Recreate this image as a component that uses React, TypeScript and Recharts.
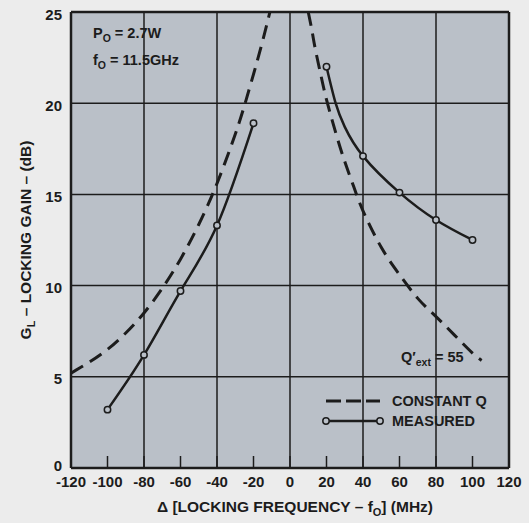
import React from 'react';
import {
  LineChart,
  Line,
  XAxis,
  YAxis,
  CartesianGrid,
  ReferenceLine,
  Customized,
} from 'recharts';

// Axis ticks and grid positions
const xTicks = [-120, -100, -80, -60, -40, -20, 0, 20, 40, 60, 80, 100, 120];
const yTicks = [0, 5, 10, 15, 20, 25];
const gridDelta = [-80, -40, 0, 40, 80];
const gridGain = [5, 10, 15, 20];

// Constant-Q locking gain curve (dB) vs. detuning (MHz)
const constQLeftDelta = [-120, -110, -100, -90, -80, -70, -60, -50, -40, -30, -24, -18, -14, -11];
const constQLeftGain = [5.2, 5.8, 6.5, 7.4, 8.5, 9.85, 11.45, 13.35, 15.6, 18.3, 20.2, 22.3, 23.8, 25.0];
const constQRightDelta = [10, 12, 14, 17, 20, 25, 30, 35, 40, 50, 60, 70, 80, 90, 100, 105];
const constQRightGain = [25.0, 24.0, 22.9, 21.5, 20.2, 18.4, 16.8, 15.4, 14.1, 12.1, 10.6, 9.3, 8.3, 7.3, 6.3, 5.9];

// Measured locking gain (dB) at the sampled detunings
const measLeftDelta = [-100, -80, -60, -40, -20];
const measLeftGain = [3.2, 6.2, 9.7, 13.3, 18.9];
const measRightDelta = [20, 40, 60, 80, 100];
const measRightGain = [22.0, 17.1, 15.1, 13.6, 12.5];

// Faired curve through the right-hand measurements
const measRightTraceDelta = [20, 25, 30, 40, 60, 80, 100];
const measRightTraceGain = [22.0, 20.0, 18.7, 17.1, 15.1, 13.6, 12.5];

const toPoints = (delta: number[], gain: number[]) =>
  delta.map((d, i) => ({ delta: d, gain: gain[i] }));

const INK = '#1c1c1c';
const PLOT_BG = '#bac0c8';
const PAGE_BG = '#ececec';
const FONT = '"Liberation Sans", Arial, Helvetica, sans-serif';

const W = 529;
const H = 523;

const textStyle = {
  fontFamily: FONT,
  fontWeight: 700,
  fill: INK,
} as const;

const openDot = { r: 3.2, fill: PLOT_BG, stroke: INK, strokeWidth: 1.5 };

// Gain tick labels: the zero label sits just above the corner
const GainTick = (props: any) => {
  const { x, y, payload } = props;
  const dy = payload.value === 0 ? -3 : 2;
  return (
    <text x={x} y={y + dy} textAnchor="end" dominantBaseline="central" fontSize={15} {...textStyle}>
      {payload.value}
    </text>
  );
};

// Annotations, legend and axis titles drawn into the chart svg
const Annotations = () => (
  <g>
    {/* operating point */}
    <text x={93} y={38} fontSize={14.5} {...textStyle}>
      P<tspan dy={4} fontSize={10.5}>O</tspan>
      <tspan dy={-4}> = 2.7W</tspan>
    </text>
    <text x={93} y={65} fontSize={14.5} {...textStyle}>
      f<tspan dy={4} fontSize={10.5}>O</tspan>
      <tspan dy={-4}> = 11.5GHz</tspan>
    </text>

    {/* external Q label */}
    <rect x={398} y={344} width={70} height={24} fill={PLOT_BG} />
    <text x={401} y={362} fontSize={14.5} {...textStyle}>
      Q′<tspan dy={4} fontSize={10.5}>ext</tspan>
      <tspan dy={-4}> = 55</tspan>
    </text>

    {/* legend */}
    <rect x={318} y={384} width={188} height={48} fill={PLOT_BG} />
    <line x1={326} x2={380} y1={401} y2={401} stroke={INK} strokeWidth={3} strokeDasharray="15 5" />
    <text x={392} y={406} fontSize={14.5} {...textStyle}>CONSTANT Q</text>
    <line x1={326} x2={380} y1={421} y2={421} stroke={INK} strokeWidth={2.5} />
    <circle cx={326} cy={421} {...openDot} />
    <circle cx={380} cy={421} {...openDot} />
    <text x={392} y={426} fontSize={14.5} {...textStyle}>MEASURED</text>

    {/* axis titles */}
    <text
      x={0}
      y={0}
      transform="translate(31 240) rotate(-90)"
      textAnchor="middle"
      fontSize={15.5}
      {...textStyle}
    >
      G<tspan dy={4} fontSize={11}>L</tspan>
      <tspan dy={-4}> – LOCKING GAIN – (dB)</tspan>
    </text>
    <text x={295} y={512} textAnchor="middle" fontSize={15.5} {...textStyle}>
      Δ [LOCKING FREQUENCY – f<tspan dy={4} fontSize={11}>O</tspan>
      <tspan dy={-4}>] (MHz)</tspan>
    </text>
  </g>
);

export default function App() {
  return (
    <div
      style={{
        position: 'absolute',
        left: 0,
        top: 0,
        width: W,
        height: H,
        background: PAGE_BG,
      }}
    >
      <LineChart width={W} height={H} margin={{ top: 12, right: 20, left: 31, bottom: 25 }}>
        <CartesianGrid horizontal={false} vertical={false} fill={PLOT_BG} />
        <XAxis
          dataKey="delta"
          type="number"
          domain={[-120, 120]}
          ticks={xTicks}
          interval={0}
          height={30}
          axisLine={false}
          tickSize={-12}
          tickMargin={20}
          tickLine={{ stroke: INK, strokeWidth: 1.5 }}
          tick={{ fill: INK, fontSize: 15, fontWeight: 700, fontFamily: FONT }}
          allowDataOverflow
        />
        <YAxis
          dataKey="gain"
          type="number"
          domain={[0, 25]}
          ticks={yTicks}
          interval={0}
          width={40}
          axisLine={false}
          tickLine={false}
          tickSize={0}
          tickMargin={9}
          tick={<GainTick />}
          allowDataOverflow
        />
        {gridDelta.map((d) => (
          <ReferenceLine key={`gx${d}`} x={d} stroke={INK} strokeWidth={1.5} />
        ))}
        {gridGain.map((g) => (
          <ReferenceLine key={`gy${g}`} y={g} stroke={INK} strokeWidth={1.5} />
        ))}
        <ReferenceLine x={-120} stroke={INK} strokeWidth={2.5} />
        <ReferenceLine x={120} stroke={INK} strokeWidth={2.5} />
        <ReferenceLine y={0} stroke={INK} strokeWidth={2.5} />
        <ReferenceLine y={25} stroke={INK} strokeWidth={2.5} />

        <Customized component={Annotations} />

        <Line
          data={toPoints(constQLeftDelta, constQLeftGain)}
          dataKey="gain"
          type="natural"
          stroke={INK}
          strokeWidth={3}
          strokeDasharray="14 8"
          dot={false}
          isAnimationActive={false}
        />
        <Line
          data={toPoints(constQRightDelta, constQRightGain)}
          dataKey="gain"
          type="natural"
          stroke={INK}
          strokeWidth={3}
          strokeDasharray="14 8"
          dot={false}
          isAnimationActive={false}
        />
        <Line
          data={toPoints(measLeftDelta, measLeftGain)}
          dataKey="gain"
          type="natural"
          stroke={INK}
          strokeWidth={2.5}
          dot={openDot}
          isAnimationActive={false}
        />
        <Line
          data={toPoints(measRightTraceDelta, measRightTraceGain)}
          dataKey="gain"
          type="natural"
          stroke={INK}
          strokeWidth={2.5}
          dot={false}
          isAnimationActive={false}
        />
        <Line
          data={toPoints(measRightDelta, measRightGain)}
          dataKey="gain"
          stroke="none"
          dot={openDot}
          isAnimationActive={false}
        />
      </LineChart>
    </div>
  );
}
